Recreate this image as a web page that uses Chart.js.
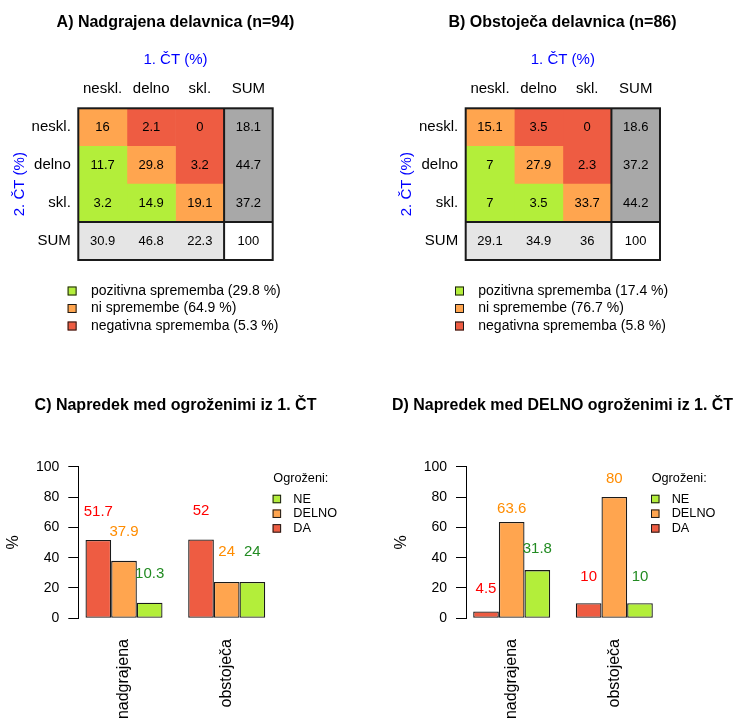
<!DOCTYPE html>
<html lang="sl">
<head>
<meta charset="utf-8">
<title>Delavnici – primerjava 1. in 2. ČT</title>
<script src="https://cdn.jsdelivr.net/npm/chart.js@4.4.1/dist/chart.umd.min.js"></script>
<style>
  html, body { margin: 0; padding: 0; background: #fff; }
  #page { position: relative; width: 733px; height: 720px; overflow: hidden; background: #fff; }
  #page canvas { position: absolute; }
</style>
</head>
<body>
<div id="page">
  <canvas id="matA" width="351" height="345" style="left:0px;top:0px"></canvas>
  <canvas id="matB" width="341" height="345" style="left:392px;top:0px"></canvas>
  <canvas id="barC" width="351" height="340" style="left:0px;top:380px"></canvas>
  <canvas id="barD" width="341" height="340" style="left:392px;top:380px"></canvas>
</div>
<script>
// ---- categories ----
const states = ['neskl.', 'delno', 'skl.'];
const sumLabel = 'SUM';
const changeLabels = ['pozitivna sprememba', 'ni spremembe', 'negativna sprememba'];
const workshops = ['nadgrajena', 'obstoječa'];
const riskLabels = ['DA', 'DELNO', 'NE'];          // bar order, left to right

// ---- A) upgraded workshop: rows = 2. ČT, columns = 1. ČT (%) ----
const cellsA = [[16, 2.1, 0], [11.7, 29.8, 3.2], [3.2, 14.9, 19.1]];
const rowSumA = [18.1, 44.7, 37.2];
const colSumA = [30.9, 46.8, 22.3];
const totalA = 100;
const changeA = [29.8, 64.9, 5.3];

// ---- B) existing workshop ----
const cellsB = [[15.1, 3.5, 0], [7, 27.9, 2.3], [7, 3.5, 33.7]];
const rowSumB = [18.6, 37.2, 44.2];
const colSumB = [29.1, 34.9, 36];
const totalB = 100;
const changeB = [17.4, 76.7, 5.8];

// ---- C) progress among pupils at risk in 1. ČT (%) ----
const daC = [51.7, 52];
const delnoC = [37.9, 24];
const neC = [10.3, 24];

// ---- D) progress among pupils partly at risk in 1. ČT (%) ----
const daD = [4.5, 10];
const delnoD = [63.6, 80];
const neD = [31.8, 10];

// ---- styling ----
const FONT = '"Liberation Sans", Arial, Helvetica, sans-serif';
const GREEN = '#B3EE3A', ORANGE = '#FFA54F', RED = '#EE5C42';
const SUM_COL = '#A8A8A8', SUM_ROW = '#E5E5E5';
const INK = '#1a1a1a';
const BLUE = '#0000FF';
const fillColors = [RED, ORANGE, GREEN];
const textColors = ['#FF0000', '#FF8C00', '#228B22'];

Chart.defaults.font.family = FONT;
Chart.defaults.color = '#000';

function cellColor(r, c) {
  if (r === 3 && c === 3) return '#FFFFFF';
  if (c === 3) return SUM_COL;
  if (r === 3) return SUM_ROW;
  if (r === c) return ORANGE;
  return r > c ? GREEN : RED;
}

function box(ctx, x, y, size, color) {
  ctx.fillStyle = color;
  ctx.fillRect(x, y - size / 2, size, size);
  ctx.strokeStyle = INK;
  ctx.lineWidth = 1;
  ctx.strokeRect(x + 0.5, y - size / 2 + 0.5, size - 1, size - 1);
}

// Empty right-hand axis that reserves room for the legend without
// narrowing the full-width title.
function spacerAxis(width) {
  return {
    type: 'linear', position: 'right', display: true,
    grid: { display: false, drawTicks: false }, border: { display: false },
    ticks: { display: false },
    afterFit: s => { s.width = width; }
  };
}

// Transition matrix drawn as a horizontal stacked bar chart: one bar per cell.
function matrixChart(id, title, cells, rowSum, colSum, total, change, L) {
  const labels = [...states, sumLabel];
  const valueAt = (r, c) =>
    r < 3 && c < 3 ? cells[r][c] : r < 3 ? rowSum[r] : c < 3 ? colSum[c] : total;

  const datasets = labels.map((name, c) => ({
    label: name,
    data: labels.map(() => 1),           // each cell is one column wide
    backgroundColor: ctx => cellColor(ctx.dataIndex, c),
    borderWidth: 0,
    barPercentage: 1,
    categoryPercentage: 1
  }));

  const matrixDecor = {
    id: 'matrixDecor',
    afterDatasetsDraw(chart) {
      const { ctx, chartArea: a } = chart;
      ctx.save();
      ctx.font = `13px ${FONT}`;
      ctx.fillStyle = '#000';
      ctx.textAlign = 'center';
      ctx.textBaseline = 'middle';
      chart.data.datasets.forEach((ds, c) => {
        chart.getDatasetMeta(c).data.forEach((el, r) => {
          const p = el.getCenterPoint();
          ctx.fillText(String(valueAt(r, c)), p.x, p.y + 0.5);
        });
      });
      const xs = chart.scales.x, ys = chart.scales.y;
      const xSum = xs.getPixelForValue(3);
      const ySum = (ys.getPixelForValue(2) + ys.getPixelForValue(3)) / 2;
      ctx.strokeStyle = INK;
      ctx.lineWidth = 2;
      ctx.strokeRect(a.left, a.top, a.width, a.height);
      ctx.beginPath();
      ctx.moveTo(xSum, a.top); ctx.lineTo(xSum, a.bottom);
      ctx.moveTo(a.left, ySum); ctx.lineTo(a.right, ySum);
      ctx.stroke();
      ctx.restore();
    },
    afterDraw(chart) {
      const { ctx, chartArea: a } = chart;
      ctx.save();
      ctx.font = `14px ${FONT}`;
      ctx.textAlign = 'left';
      ctx.textBaseline = 'middle';
      const colors = [GREEN, ORANGE, RED];
      changeLabels.forEach((txt, i) => {
        const y = a.bottom + 31 + i * 17.5;
        box(ctx, a.left - 10.7, y, 9, colors[i]);
        ctx.fillStyle = '#000';
        ctx.fillText(`${txt} (${change[i]} %)`, a.left + 12.6, y);
      });
      ctx.restore();
    }
  };

  return new Chart(document.getElementById(id), {
    type: 'bar',
    data: { labels, datasets },
    plugins: [matrixDecor],
    options: {
      indexAxis: 'y',
      responsive: false,
      animation: false,
      devicePixelRatio: 1,
      events: [],
      layout: { padding: { left: 0, top: 0, right: 0, bottom: L.padBottom } },
      plugins: {
        legend: { display: false },
        tooltip: { enabled: false },
        title: {
          display: true, text: title, color: '#000',
          font: { size: 16, weight: 'bold' },
          padding: { top: 13, bottom: 6.1 }
        }
      },
      scales: {
        x: {
          type: 'linear', position: 'top', stacked: true, min: 0, max: 4,
          grid: { display: false, drawTicks: false }, border: { display: false },
          afterBuildTicks: s => { s.ticks = labels.map((_, i) => ({ value: i + 0.5 })); },
          afterFit: s => { s.height = 70; },
          ticks: {
            callback: (v, i) => labels[i], autoSkip: false, maxRotation: 0,
            font: { size: 15 }, color: '#000', padding: 10.3
          },
          title: {
            display: true, text: '1. ČT (%)', color: BLUE,
            font: { size: 15 }, padding: { top: 12.7, bottom: 0 }
          }
        },
        y: {
          type: 'category', stacked: true,
          grid: { display: false, drawTicks: false }, border: { display: false },
          afterFit: s => { s.width = L.yWidth; },
          ticks: { font: { size: 15 }, color: '#000', padding: 7.5 },
          title: {
            display: true, text: '2. ČT (%)', color: BLUE,
            font: { size: 15 }, padding: { top: L.yTitlePad, bottom: 0 }
          }
        },
        spacer: spacerAxis(L.padRight)
      }
    }
  });
}

// Grouped bars of risk groups for both workshops.
function progressChart(id, title, series, lift, L) {
  const centers = workshops.map((_, i) => 2.5 + 4 * i);
  const datasets = riskLabels.map((name, k) => ({
    label: name,
    data: series[k].map((v, i) => ({ x: centers[i], y: v })),
    backgroundColor: fillColors[k],
    borderColor: INK,
    borderWidth: 1.3,
    borderSkipped: false,
    barPercentage: 1,
    categoryPercentage: 0.75
  }));

  const barDecor = {
    id: 'barDecor',
    afterDatasetsDraw(chart) {
      const { ctx } = chart;
      ctx.save();
      ctx.font = `15px ${FONT}`;
      ctx.textAlign = 'center';
      ctx.textBaseline = 'middle';
      datasets.forEach((ds, k) => {
        chart.getDatasetMeta(k).data.forEach((el, i) => {
          ctx.fillStyle = textColors[k];
          ctx.fillText(String(series[k][i]), el.x, el.y - lift[k][i]);
        });
      });
      ctx.restore();
    },
    afterDraw(chart) {
      const { ctx } = chart;
      ctx.save();
      ctx.textAlign = 'left';
      ctx.textBaseline = 'middle';
      ctx.font = `12.7px ${FONT}`;
      ctx.fillStyle = '#000';
      ctx.fillText('Ogroženi:', L.legX, L.legY);
      [2, 1, 0].forEach((k, j) => {
        const y = L.legY + 20.7 + j * 14.7;
        box(ctx, L.legX - 0.7, y, 8.5, fillColors[k]);
        ctx.fillStyle = '#000';
        ctx.fillText(riskLabels[k], L.legX + 20, y);
      });
      ctx.restore();
    }
  };

  return new Chart(document.getElementById(id), {
    type: 'bar',
    data: { datasets },
    plugins: [barDecor],
    options: {
      responsive: false,
      animation: false,
      devicePixelRatio: 1,
      events: [],
      layout: { padding: 0 },
      plugins: {
        legend: { display: false },
        tooltip: { enabled: false },
        title: {
          display: true, text: title, color: '#000',
          font: { size: 16, weight: 'bold' },
          padding: { top: 15.9, bottom: 51.6 }
        }
      },
      scales: {
        x: {
          type: 'linear', min: 0.72, max: 8.28, offset: false,
          grid: {
            display: true, offset: false, drawOnChartArea: false,
            drawTicks: true, tickLength: 20.7, color: 'rgba(0,0,0,0)'
          },
          border: { display: false },
          afterBuildTicks: s => { s.ticks = centers.map(v => ({ value: v })); },
          afterFit: s => { s.height = 101.7; },
          ticks: {
            callback: (v, i) => workshops[i], autoSkip: false,
            minRotation: 90, maxRotation: 90,
            font: { size: 16 }, color: '#000', padding: 0
          }
        },
        y: {
          min: 0, max: 100,
          grid: { drawOnChartArea: false, drawTicks: true, tickLength: 10, color: '#000', lineWidth: 1 },
          border: { display: true, color: '#000', width: 1 },
          afterFit: s => { s.width = L.yWidth; },
          ticks: { stepSize: 20, font: { size: 14 }, color: '#000', padding: 9 },
          title: {
            display: true, text: '%', color: '#000',
            font: { size: 16 }, padding: { top: L.yTitlePad, bottom: 0 }
          }
        },
        spacer: spacerAxis(L.padRight)
      }
    }
  });
}

matrixChart('matA', 'A) Nadgrajena delavnica (n=94)', cellsA, rowSumA, colSumA, totalA, changeA,
  { yWidth: 78.3, yTitlePad: 11, padRight: 78.3, padBottom: 85 });
matrixChart('matB', 'B) Obstoječa delavnica (n=86)', cellsB, rowSumB, colSumB, totalB, changeB,
  { yWidth: 73.7, yTitlePad: 6, padRight: 73, padBottom: 85 });

progressChart('barC', 'C) Napredek med ogroženimi iz 1. ČT',
  [daC, delnoC, neC],
  [[28.3, 28.3], [29.3, 29.7], [29, 30.3]],
  { yWidth: 78.3, yTitlePad: 3.7, padRight: 78.6, legX: 273.3, legY: 98.3 });
progressChart('barD', 'D) Napredek med DELNO ogroženimi iz 1. ČT',
  [daD, delnoD, neD],
  [[22.7, 25.8], [13.3, 18.4], [21.7, 25.8]],
  { yWidth: 74, yTitlePad: 0.1, padRight: 73, legX: 259.7, legY: 98.3 });
</script>
</body>
</html>
